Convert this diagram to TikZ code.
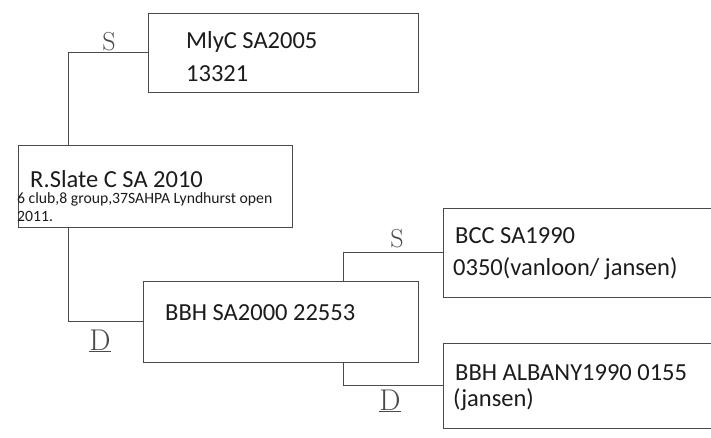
\documentclass[tikz,border=0pt]{standalone}
\usepackage{fontspec}
\setmainfont{Carlito}
\newfontfamily\handfont{Latin Modern Roman}
\definecolor{inkline}{HTML}{4A4A4A}
\definecolor{inktext}{HTML}{1C1C1C}
\begin{document}
\begin{tikzpicture}[x=1pt,y=-1pt,
  boxnode/.style={draw=inkline,line width=0.9pt,rectangle,inner sep=0pt},
  conn/.style={draw=inkline,line width=0.9pt},
  bigtext/.style={anchor=base west,inner sep=0pt,text=inktext,font=\fontsize{24.5}{29}\selectfont},
  smalltext/.style={anchor=base west,inner sep=0pt,text=inktext,font=\fontsize{15.7}{18}\selectfont},
  handlabel/.style={inner sep=0pt,text=inkline,font=\handfont\fontsize{26}{28}\selectfont}]
\useasboundingbox (0,0) rectangle (711,437);
\fill[white] (0,0) rectangle (711,437);
\clip (0,0) rectangle (711,437);
% boxes
\node[boxnode,minimum width=270pt,minimum height=79pt] (b1) at (283,52.5) {};
\node[boxnode,minimum width=274pt,minimum height=82pt] (b2) at (155,186) {};
\node[boxnode,minimum width=275pt,minimum height=81pt] (b3) at (280.5,321.5) {};
\node[boxnode,minimum width=300pt,minimum height=89pt] (b4) at (593,252.5) {};
\node[boxnode,minimum width=300pt,minimum height=85pt] (b5) at (593,385.5) {};
% texts
\node[bigtext] (t1a) at (186,48) {MlyC SA2005};
\node[bigtext] (t1b) at (186,81) {13321};
\node[bigtext] (t2a) at (30,187) {R.Slate C SA 2010};
\node[smalltext] (t2b) at (17,203) {6 club,8 group,37SAHPA Lyndhurst open};
\node[smalltext] (t2c) at (17,221) {2011.};
\node[bigtext] (t3a) at (165,320) {BBH SA2000 22553};
\node[bigtext] (t4a) at (455,243) {BCC SA1990};
\node[bigtext] (t4b) at (453,275) {0350(vanloon/ jansen)};
\node[bigtext] (t5a) at (455,380) {BBH ALBANY1990 0155};
\node[bigtext] (t5b) at (453,406) {(jansen)};
% connector junctions
\coordinate (k1) at (68,145);
\coordinate (k2) at (68,227);
\coordinate (k3) at (343,281);
\coordinate (k4) at (343,362);
\draw[conn] (b1.west) -| (k1);
\draw[conn] (k2) |- (b3.west);
\draw[conn] (k3) |- (b4.west);
\draw[conn] (k4) |- (b5.west);
% labels
\node[handlabel] (ls1) at (109,42) {S};
\node[handlabel,font=\handfont\fontsize{30}{32}\selectfont] (ld1) at (100,341) {\underline{D}};
\node[handlabel] (ls2) at (397,239) {S};
\node[handlabel,font=\handfont\fontsize{30}{32}\selectfont] (ld2) at (390,401) {\underline{D}};
\end{tikzpicture}
\end{document}
